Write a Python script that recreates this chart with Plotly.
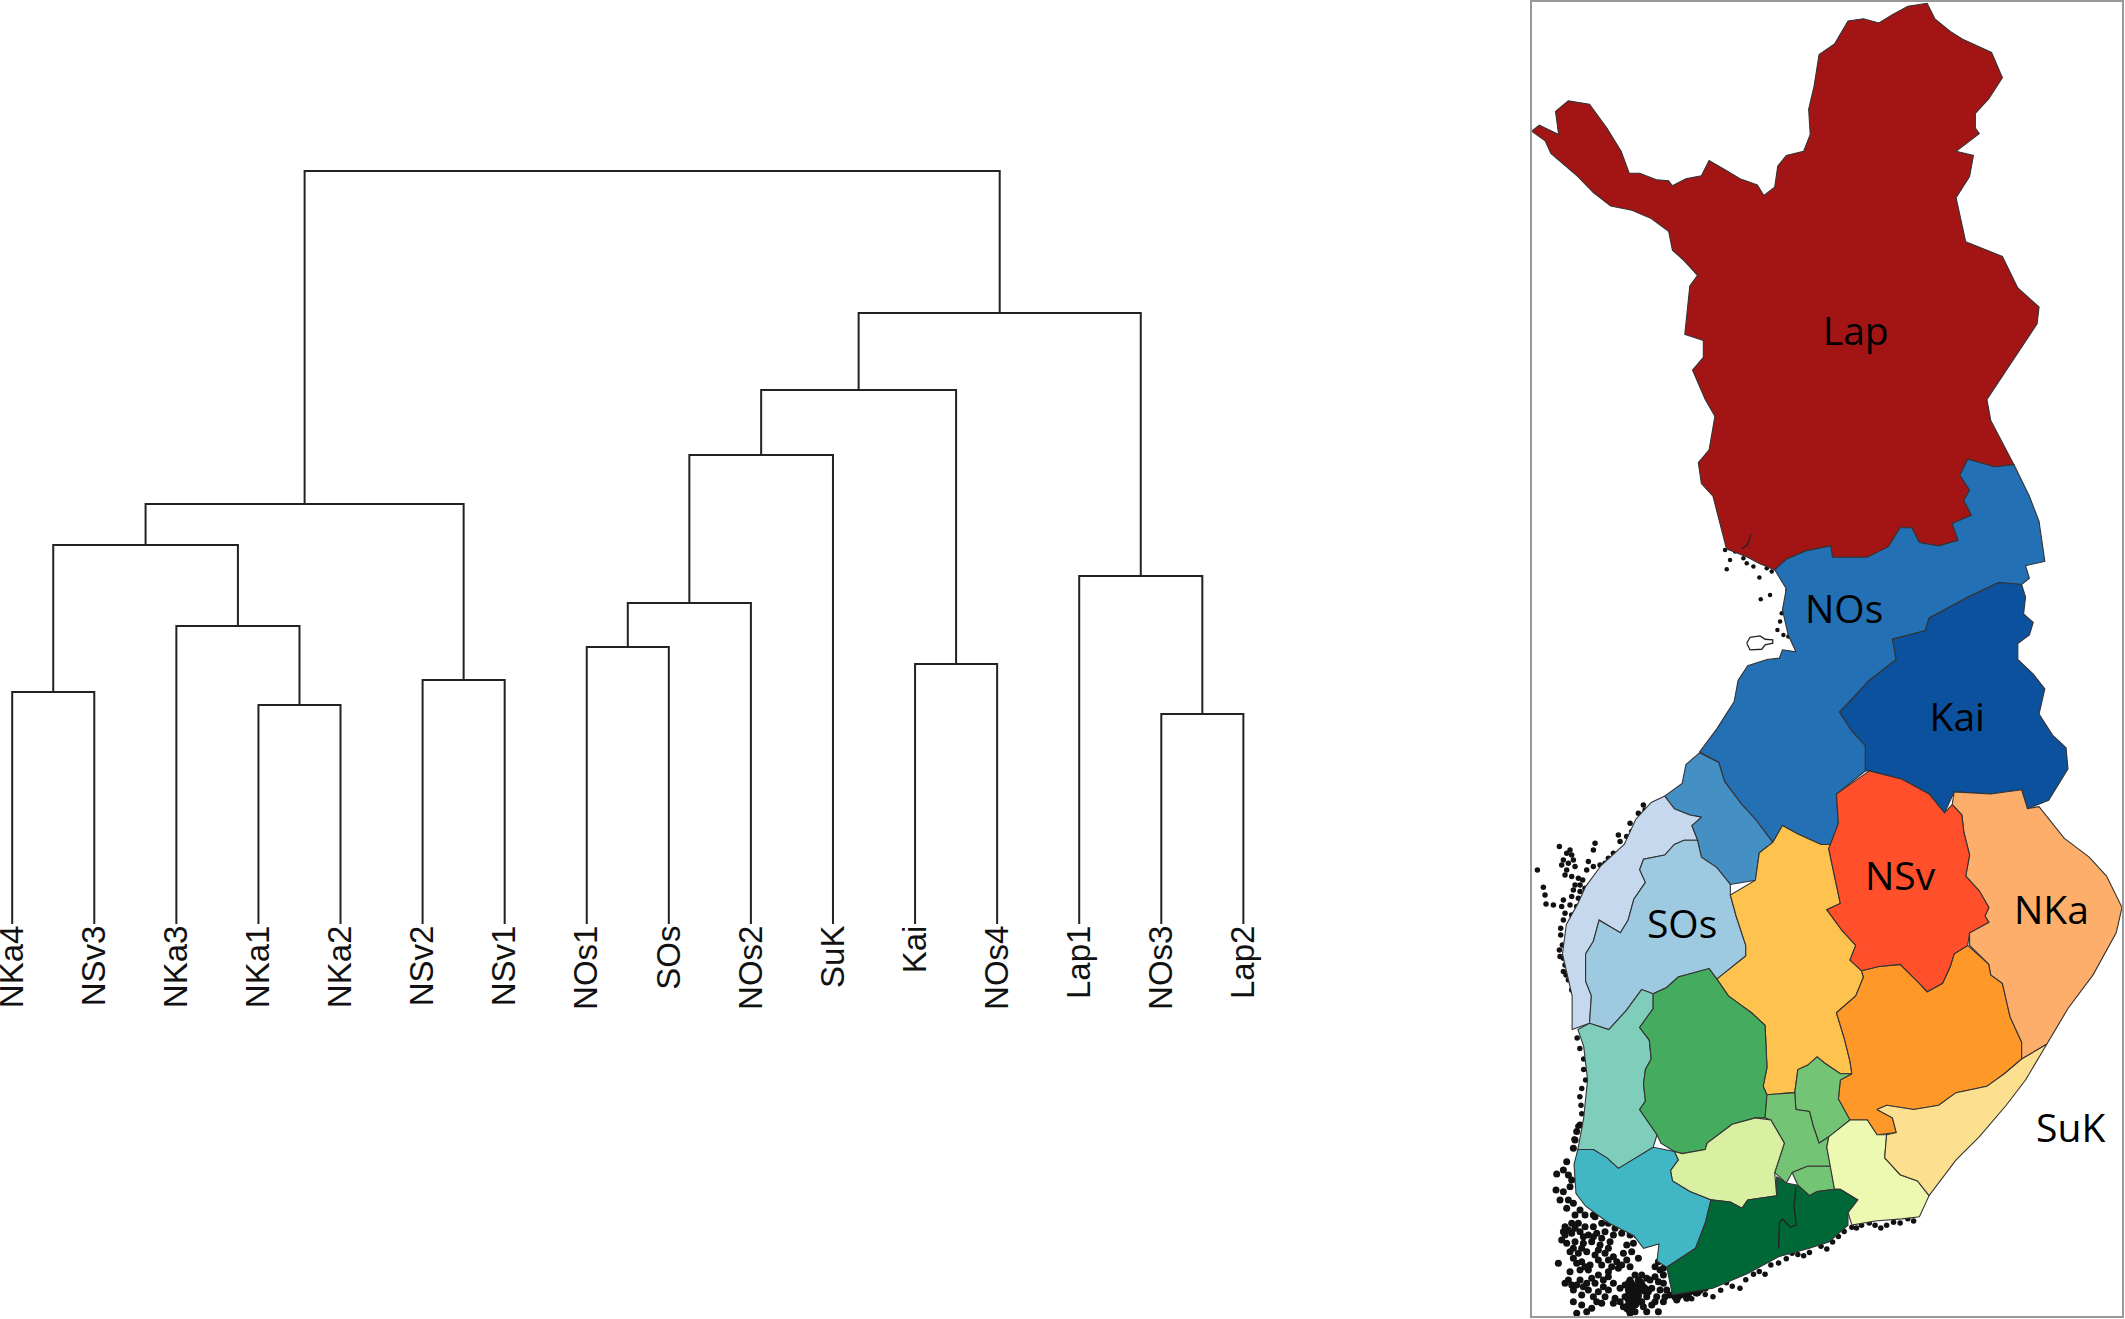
import plotly.graph_objects as go

# ---- dendrogram data ----
leaf_labels = ["NKa4", "NSv3", "NKa3", "NKa1", "NKa2", "NSv2", "NSv1", "NOs1",
               "SOs", "NOs2", "SuK", "Kai", "NOs4", "Lap1", "NOs3", "Lap2"]

# hclust style merges: negative = leaf number (1 based), positive = earlier merge
merge_left = [-1, -4, -3, 1, -6, 4, -8, 7, 8, -12, 9, -15, -14, 11, 6]
merge_right = [-2, -5, 2, 3, -7, 5, -9, -10, -11, -13, 10, -16, 12, 13, 14]
merge_height = [232, 219, 298, 379, 244, 420, 277, 321, 469, 260, 534, 210, 348, 611, 753]

# ---- map data in sheet units ----
# the south half was traced on its own sheet, so it gets shifted down
SOUTH_SHIFT = 1568


def south(pts):
    return [(x, y + SOUTH_SHIFT) for x, y in pts]


def tile(pts, x0, y0):
    return [((x0 + x / 3 - 1520) * 2.592, (y0 + y / 3) * 2.3776) for x, y in pts]


lap = [(30, 312), (50, 298), (100, 320), (92, 265), (125, 240), (180, 248), (225, 305), (262, 360),
       (283, 412), (310, 412), (355, 428), (385, 430), (395, 442), (430, 425), (470, 418), (490, 382),
       (530, 403), (570, 425), (615, 440), (632, 465), (660, 445), (668, 395), (690, 370), (735, 360),
       (752, 320), (748, 260), (762, 205), (775, 130), (815, 105), (850, 50), (890, 45), (930, 55),
       (965, 35), (1005, 15), (1055, 8), (1075, 45), (1115, 75), (1150, 95), (1222, 125), (1250, 185),
       (1215, 235), (1180, 270), (1180, 305), (1190, 318), (1130, 360), (1175, 370), (1165, 420),
       (1130, 470), (1155, 575), (1250, 610), (1290, 685), (1345, 730), (1340, 770), (1290, 840),
       (1210, 950), (1220, 1000), (1280, 1105), (1230, 1110), (1160, 1092), (1140, 1130), (1165, 1165),
       (1150, 1190), (1170, 1225), (1120, 1245), (1135, 1285), (1085, 1298), (1035, 1290), (1015, 1255),
       (985, 1255), (955, 1300), (900, 1325), (810, 1325), (805, 1298), (740, 1310), (690, 1330),
       (660, 1355), (620, 1340), (590, 1325), (535, 1305), (500, 1180), (470, 1150), (462, 1100),
       (490, 1070), (505, 990), (480, 950), (447, 880), (475, 850), (475, 810), (427, 795), (440, 680),
       (460, 655), (425, 620), (395, 595), (385, 550), (340, 520), (290, 500), (235, 490), (190, 458),
       (150, 420), (80, 365), (65, 335)]

nos = [(660, 1355), (690, 1330), (740, 1310), (805, 1298), (810, 1325), (900, 1325), (955, 1300),
       (985, 1255), (1015, 1255), (1035, 1290), (1085, 1298), (1135, 1285), (1120, 1245), (1170, 1225),
       (1150, 1190), (1165, 1165), (1140, 1130), (1160, 1092), (1230, 1110), (1280, 1105), (1320, 1180),
       (1345, 1240), (1360, 1335), (1310, 1345), (1320, 1375), (1300, 1390), (1240, 1385), (1160, 1420),
       (1060, 1470), (1050, 1500), (965, 1520), (975, 1568)] + south(
    [(905, 50), (865, 90), (828, 125), (860, 170), (895, 205), (895, 265), (820, 320), (825, 390),
     (805, 440), (780, 440), (720, 415), (680, 395), (655, 435), (610, 380), (575, 345), (530, 290),
     (515, 245), (465, 220), (510, 165), (555, 100), (565, 50), (590, 15), (640, 0)]) + [
    (672, 1565), (680, 1545), (715, 1550), (695, 1510), (680, 1450), (690, 1400)]

kai = [(1300, 1390), (1310, 1420), (1305, 1460), (1330, 1480), (1320, 1510), (1290, 1530), (1290, 1568)] + south(
    [(1330, 35), (1360, 70), (1345, 130), (1380, 180), (1415, 210), (1420, 260), (1370, 335), (1315, 355),
     (1300, 310), (1220, 320), (1125, 315), (1100, 365), (1060, 320), (990, 285), (905, 265), (895, 265),
     (895, 205), (860, 170), (828, 125), (865, 90), (905, 50)]) + [
    (975, 1568), (965, 1520), (1050, 1500), (1060, 1470), (1160, 1420), (1240, 1385)]

nsv = south([(905, 265), (990, 285), (1060, 320), (1100, 365), (1120, 345), (1145, 370), (1150, 410),
             (1165, 465), (1155, 515), (1190, 550), (1215, 590), (1205, 610), (1215, 625), (1165, 650),
             (1160, 680), (1125, 700), (1115, 730), (1095, 770), (1055, 790), (1035, 770), (985, 725),
             (930, 730), (885, 740), (855, 715), (870, 680), (835, 645), (795, 595), (830, 580),
             (815, 515), (800, 450), (825, 390), (820, 320)])

nka = south([(1125, 315), (1220, 320), (1300, 310), (1315, 355), (1345, 350), (1410, 425), (1475, 470),
             (1520, 515), (1560, 590), (1545, 650), (1485, 750), (1420, 830), (1365, 915), (1300, 950),
             (1300, 910), (1270, 850), (1250, 770), (1220, 750), (1215, 725), (1165, 680), (1165, 650),
             (1215, 625), (1205, 610), (1215, 590), (1190, 550), (1155, 515), (1165, 465), (1150, 410),
             (1145, 370), (1120, 345)])

savo = south([(1160, 680), (1215, 725), (1220, 750), (1250, 770), (1270, 850), (1300, 910), (1300, 950),
              (1255, 985), (1210, 1015), (1130, 1030), (1085, 1060), (1020, 1070), (950, 1060), (925, 1070),
              (965, 1090), (975, 1125), (925, 1130), (900, 1095), (855, 1095), (825, 1045), (830, 1000),
              (860, 985), (855, 955), (840, 900), (820, 840), (870, 800), (890, 755), (885, 740), (930, 730),
              (985, 725), (1035, 770), (1055, 790), (1095, 770), (1115, 730), (1125, 700)])

keski = south([(680, 395), (720, 415), (780, 440), (805, 440), (800, 450), (815, 515), (830, 580), (795, 595),
               (835, 645), (870, 680), (855, 715), (885, 740), (890, 755), (870, 800), (820, 840), (840, 900),
               (855, 955), (860, 985), (830, 985), (790, 960), (770, 945), (745, 965), (720, 975), (712, 1030),
               (640, 1035), (630, 1015), (640, 970), (635, 870), (600, 840), (570, 820), (540, 800), (510, 760),
               (585, 705), (585, 680), (560, 610), (545, 560), (610, 525), (620, 460), (655, 435)])

nos_west = south([(465, 222), (515, 245), (530, 290), (575, 345), (610, 380), (655, 435), (620, 460), (610, 525),
                  (545, 535), (510, 495), (470, 470), (460, 430), (445, 395), (470, 375), (440, 370), (400, 355),
                  (375, 325), (420, 295), (430, 250)])

ost = south([(375, 325), (400, 355), (440, 370), (470, 375), (445, 395), (460, 430), (425, 430), (400, 440),
             (375, 465), (320, 475), (310, 500), (325, 530), (295, 570), (280, 620), (260, 650), (205, 620),
             (190, 670), (170, 700), (170, 765), (185, 800), (180, 865), (135, 880), (135, 800), (110, 700),
             (120, 630), (150, 580), (170, 540), (210, 490), (270, 440), (300, 380), (340, 340)])

sos = south([(425, 430), (460, 430), (470, 470), (510, 495), (545, 535), (545, 560), (560, 610), (585, 680),
             (585, 705), (510, 760), (490, 735), (410, 755), (380, 780), (345, 795), (315, 785), (275, 835),
             (230, 880), (180, 865), (185, 800), (170, 765), (170, 700), (190, 670), (205, 620), (260, 650),
             (280, 620), (295, 570), (325, 530), (310, 500), (320, 475), (375, 465), (400, 440)])

satakunta = south([(315, 785), (345, 795), (345, 830), (310, 875), (335, 905), (340, 950), (325, 975), (320, 1010),
                   (325, 1050), (310, 1070), (355, 1130), (345, 1160), (300, 1185), (255, 1210), (225, 1185),
                   (190, 1165), (150, 1165), (165, 1090), (175, 1000), (165, 920), (150, 880), (180, 865),
                   (230, 880), (275, 835)])

pirkanmaa = south([(345, 795), (380, 780), (410, 755), (490, 735), (510, 760), (540, 800), (570, 820), (600, 840),
                   (635, 870), (640, 970), (630, 1015), (640, 1035), (635, 1090), (610, 1090), (550, 1105),
                   (485, 1150), (480, 1165), (420, 1175), (400, 1170), (365, 1150), (355, 1130), (310, 1070),
                   (325, 1050), (320, 1010), (325, 975), (340, 950), (335, 905), (310, 875), (345, 830)])

paijat_n = south([(712, 1030), (720, 975), (745, 965), (770, 945), (790, 960), (830, 985), (860, 985), (830, 1000),
                  (825, 1045), (855, 1095), (800, 1135), (775, 1150), (760, 1110), (750, 1075), (715, 1070)])

paijat_s = south([(640, 1035), (712, 1030), (715, 1070), (750, 1075), (760, 1110), (775, 1150), (800, 1135),
                  (795, 1160), (805, 1205), (745, 1205), (705, 1220), (690, 1245), (660, 1220), (685, 1150),
                  (650, 1095), (635, 1090)])

paijat_b = south([(705, 1220), (745, 1205), (805, 1205), (815, 1260), (770, 1265), (750, 1275), (720, 1250)])

kanta = south([(550, 1105), (610, 1090), (650, 1095), (685, 1150), (660, 1220), (665, 1275), (590, 1285),
               (575, 1305), (545, 1290), (495, 1285), (440, 1265), (395, 1240), (390, 1215), (410, 1190),
               (400, 1170), (420, 1175), (480, 1165), (485, 1150)])

kymi = south([(800, 1135), (855, 1095), (900, 1095), (925, 1130), (950, 1130), (945, 1185), (985, 1225),
              (1030, 1240), (1060, 1275), (1035, 1325), (990, 1330), (920, 1335), (860, 1345), (850, 1315),
              (875, 1285), (830, 1260), (815, 1260), (805, 1205), (795, 1160)])

suk = south([(925, 1070), (950, 1060), (1020, 1070), (1085, 1060), (1130, 1030), (1210, 1015), (1255, 985),
             (1300, 950), (1365, 915), (1310, 1000), (1260, 1060), (1190, 1135), (1130, 1190), (1060, 1275),
             (1030, 1240), (985, 1225), (945, 1185), (950, 1130), (975, 1125), (965, 1090)])

varsinais = south([(150, 1165), (190, 1165), (225, 1185), (255, 1210), (300, 1185), (345, 1160), (400, 1170),
                   (410, 1190), (390, 1215), (395, 1240), (440, 1265), (495, 1285), (480, 1340), (455, 1400),
                   (380, 1445), (355, 1430), (360, 1390), (320, 1400), (295, 1370), (230, 1340), (170, 1300),
                   (145, 1270), (140, 1200)])

uusimaa = south([(495, 1285), (545, 1290), (575, 1305), (590, 1285), (665, 1275), (665, 1230), (690, 1245),
                 (720, 1250), (750, 1275), (770, 1265), (815, 1260), (830, 1260), (875, 1285), (850, 1315),
                 (850, 1345), (800, 1385), (750, 1400), (670, 1420), (590, 1460), (500, 1495), (395, 1510),
                 (380, 1445), (455, 1400), (480, 1340)])

regions = [lap, nos, nos_west, ost, sos, kai, keski, savo, nka, nsv, satakunta, pirkanmaa, paijat_n,
           paijat_s, paijat_b, kanta, kymi, suk, varsinais, uusimaa]
region_colors = ["#A31515", "#2470B5", "#4490C4", "#C6D8EE", "#9ECAE1", "#0B519E", "#FEC24F", "#FE9929",
                 "#FDAE6B", "#FF4F2B", "#7FCDBB", "#45AB5F", "#74C476", "#74C476", "#74C476", "#D9F0A3",
                 "#EDF8B1", "#FDE08F", "#41B6C4", "#006837"]

# inner borders that do not close a region
uusimaa_line = south([(715, 1255), (710, 1300), (716, 1345), (700, 1350), (680, 1330), (672, 1340), (670, 1400)])
lap_river = [(598, 1270), (590, 1295), (575, 1305)]
hailuoto = tile([(140, 340), (150, 322), (180, 318), (195, 328), (218, 330), (218, 340), (195, 345),
                 (185, 358), (150, 360), (140, 340)], 1700, 530)

speckles_sw = tile([
    (150, 15), (140, 35), (135, 60), (130, 85), (110, 125), (100, 150), (115, 165), (125, 180), (80, 162),
    (78, 210), (120, 200), (100, 215), (90, 240), (115, 240), (130, 250), (150, 270), (110, 265), (135, 285),
    (165, 285), (190, 285), (205, 260), (195, 290),
    (105, 320), (125, 310), (145, 310), (165, 320), (190, 320), (215, 310), (235, 310), (255, 325),
    (105, 345), (125, 340), (150, 335), (175, 345), (200, 340), (225, 335), (250, 345), (275, 340), (300, 345),
    (320, 345), (110, 370), (135, 365), (160, 370), (185, 365), (210, 375), (240, 365), (290, 375), (310, 370),
    (120, 395), (145, 400), (170, 395), (195, 405), (225, 400), (250, 410), (280, 400), (305, 395),
    (85, 430), (130, 415), (155, 425), (180, 435), (205, 420), (235, 420), (260, 425), (290, 420), (325, 415),
    (300, 440), (120, 455), (150, 450), (175, 450), (205, 465), (235, 455), (265, 445), (375, 440), (390, 450),
    (400, 465), (105, 490), (125, 495), (150, 480), (170, 490), (195, 490), (220, 480), (250, 490), (300, 480),
    (325, 480), (350, 475), (375, 470), (400, 490), (410, 510), (130, 510), (175, 510), (205, 515), (235, 510),
    (270, 505), (295, 510), (315, 500), (340, 500), (365, 505), (390, 510), (155, 525), (190, 530), (225, 530),
    (255, 535), (285, 530), (305, 530), (325, 525), (350, 530), (380, 530), (420, 525), (450, 525), (480, 515),
    (510, 510), (540, 495), (570, 480), (130, 545), (155, 555), (185, 565), (215, 550), (250, 550), (295, 555),
    (315, 555), (340, 560), (365, 555), (400, 545), (440, 540), (470, 535), (140, 580), (170, 575), (300, 580),
    (315, 575), (350, 575), (385, 575),
    # second pass over the denser patches
    (115, 330), (135, 325), (160, 350), (190, 350), (215, 355), (130, 385), (155, 385), (205, 390), (235, 385),
    (140, 430), (165, 440), (215, 435), (245, 440), (275, 435), (115, 480), (140, 495), (185, 475), (235, 470),
    (315, 465), (335, 465), (360, 480), (385, 485), (160, 500), (220, 500), (285, 495), (310, 520), (330, 510),
    (355, 515), (295, 540), (320, 540), (335, 545), (405, 530), (435, 530), (460, 520), (525, 505), (555, 490),
    (200, 545), (270, 545), (280, 560), (305, 565), (375, 545), (100, 335), (95, 360), (400, 445), (385, 425)],
    1530, 1120)

speckles_blob = tile([(300, 490), (315, 510), (300, 525), (320, 530), (305, 545), (295, 565), (315, 550),
                      (330, 490), (345, 510), (440, 530), (470, 525), (500, 515)], 1530, 1120)

speckles_w = tile([
    (340, 15), (345, 30), (325, 40), (300, 70), (305, 95), (290, 110), (265, 105), (270, 125), (285, 145),
    (195, 130), (190, 150), (88, 140), (250, 160), (235, 175), (295, 180), (240, 195), (265, 205), (110, 160),
    (125, 165), (100, 180), (130, 180), (95, 195), (110, 210), (135, 200), (125, 230), (105, 225), (175, 185),
    (190, 200), (170, 210), (210, 195), (145, 235), (158, 240), (40, 262), (45, 285), (48, 312), (22, 210),
    (165, 265), (178, 282), (130, 270), (150, 275), (125, 290), (145, 295), (100, 300), (120, 315), (140, 320),
    (95, 320), (105, 340), (125, 345), (100, 360), (92, 405), (97, 435), (90, 470), (100, 475), (100, 515),
    (115, 540), (125, 570), (70, 315), (140, 580), (150, 255), (135, 255), (115, 190), (120, 150), (225, 190),
    (255, 190), (280, 165), (92, 385), (88, 450), (105, 495), (108, 525)], 1530, 800)

speckles_n = tile([
    (75, 60), (90, 55), (105, 65), (130, 85), (140, 100), (160, 110), (200, 115), (215, 125), (90, 90), (80, 118),
    (178, 143), (262, 180), (258, 225), (245, 250), (240, 275), (182, 208), (210, 195), (232, 300), (250, 315),
    (265, 320)], 1700, 530)

speckles_coast = south([(148, 900), (165, 950), (170, 1000), (155, 1040), (160, 1080), (150, 1110), (140, 1140),
                        (155, 925), (165, 975), (160, 1020), (158, 1060),
                        (860, 1350), (885, 1345), (920, 1345), (950, 1345), (985, 1340), (1020, 1335), (840, 1360),
                        (810, 1385), (780, 1395), (750, 1410), (720, 1415), (690, 1425), (650, 1440), (620, 1455),
                        (585, 1475), (550, 1490), (520, 1500), (480, 1510), (445, 1520),
                        (872, 1352), (905, 1340), (935, 1352), (968, 1338), (1005, 1330), (825, 1372), (795, 1402),
                        (765, 1388), (735, 1418), (705, 1412), (670, 1435), (635, 1462), (605, 1462), (570, 1495),
                        (535, 1482), (500, 1515), (465, 1502)])

map_labels = ["Lap", "NOs", "Kai", "NSv", "NKa", "SOs", "SuK"]
map_label_x = [870, 840, 1133, 985, 1377, 420, 1427]
map_label_y = [797, 1459, 1715, 2093, 2175, 2206, 2693]


def leaf_x(i):
    return i - 1


def dendro_lines():
    # walk the merge table, every merge gives one upside down U
    xs, ys = [], []
    node_x = {}
    node_h = {}
    for n, (a, b, h) in enumerate(zip(merge_left, merge_right, merge_height), start=1):
        xa = leaf_x(-a) if a < 0 else node_x[a]
        xb = leaf_x(-b) if b < 0 else node_x[b]
        ha = 0 if a < 0 else node_h[a]
        hb = 0 if b < 0 else node_h[b]
        xs += [xa, xa, xb, xb, None]
        ys += [ha, h, h, hb, None]
        node_x[n] = (xa + xb) / 2
        node_h[n] = h
    return xs, ys


fig = go.Figure()

xs, ys = dendro_lines()
fig.add_trace(go.Scatter(x=xs, y=ys, mode="lines", line=dict(color="#222222", width=2),
                         xaxis="x", yaxis="y", hoverinfo="skip"))

for pts, dot in [(speckles_sw, 7), (speckles_w, 5.5), (speckles_n, 4.5), (speckles_coast, 5.5), (speckles_blob, 10)]:
    fig.add_trace(go.Scatter(x=[p[0] for p in pts], y=[p[1] for p in pts], mode="markers",
                             marker=dict(size=dot, color="#111111"),
                             xaxis="x2", yaxis="y2", hoverinfo="skip"))

for pts, col in zip(regions, region_colors):
    fig.add_trace(go.Scatter(x=[p[0] for p in pts] + [pts[0][0]], y=[p[1] for p in pts] + [pts[0][1]],
                             mode="lines", fill="toself", fillcolor=col,
                             line=dict(color="#333333", width=1.1),
                             xaxis="x2", yaxis="y2", hoverinfo="skip"))

for pts in [uusimaa_line, lap_river, hailuoto]:
    fig.add_trace(go.Scatter(x=[p[0] for p in pts], y=[p[1] for p in pts], mode="lines",
                             line=dict(color="#222222", width=1.3),
                             xaxis="x2", yaxis="y2", hoverinfo="skip"))

fig.add_trace(go.Scatter(x=map_label_x, y=map_label_y, text=map_labels, mode="text",
                         textfont=dict(family="Open Sans", size=39, color="black"),
                         xaxis="x2", yaxis="y2", hoverinfo="skip"))

fig.update_layout(
    width=2125, height=1319,
    margin=dict(l=0, r=0, t=0, b=0, autoexpand=False),
    paper_bgcolor="white", plot_bgcolor="white",
    showlegend=False,
    xaxis=dict(domain=[0, 1300 / 2125], range=[-0.1487, 15.69],
               tickmode="array", tickvals=list(range(len(leaf_labels))), ticktext=leaf_labels,
               tickangle=-90, ticks="", showgrid=False, zeroline=False, showline=False,
               ticklabeloverflow="allow", ticklabelstandoff=-6,
               tickfont=dict(family="Liberation Sans", size=33, color="#111111"), anchor="y"),
    yaxis=dict(domain=[395 / 1319, 1], range=[0, 924], visible=False, anchor="x"),
    xaxis2=dict(domain=[1531.6 / 2125, 2122 / 2125], range=[30, 1560], showgrid=False, zeroline=False,
                showticklabels=False, ticks="", showline=True, mirror=True, linecolor="#999999",
                linewidth=2, anchor="y2"),
    yaxis2=dict(domain=[3 / 1319, 1317 / 1319], range=[3129, 5], showgrid=False, zeroline=False,
                showticklabels=False, ticks="", showline=True, mirror=True, linecolor="#999999",
                linewidth=2, anchor="x2"),
)

fig.write_html("out.html", config={"displayModeBar": False},
               post_script="document.body.style.margin='0';")
